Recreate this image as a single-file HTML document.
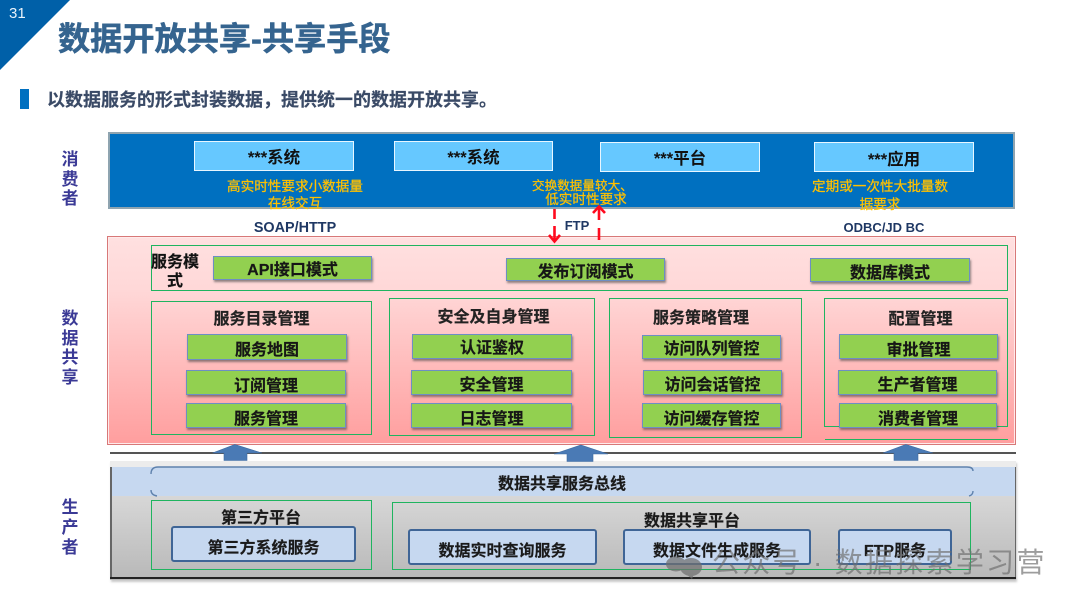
<!DOCTYPE html>
<html lang="zh">
<head>
<meta charset="utf-8">
<title>数据开放共享-共享手段</title>
<style>
html,body{margin:0;padding:0;background:#fff}
body{width:1080px;height:605px;position:relative;overflow:hidden;font-family:"Liberation Sans","Noto Sans CJK SC",sans-serif}
#page{left:0;top:0;width:1080px;height:605px;overflow:hidden;filter:blur(.35px)}
div{position:absolute;box-sizing:border-box}
.g{background:#92d050;border:1px solid #6d8ec4;box-shadow:1px 2px 2px rgba(70,70,70,.6);text-align:center;font-size:16px;font-weight:700;color:#161616;white-space:nowrap;line-height:32px;-webkit-text-stroke:.2px #161616}
.lb{background:#66c8ff;border:1px solid #e8f6ff;text-align:center;font-size:16.5px;font-weight:700;color:#111;white-space:nowrap}
.y{color:#ffc000;font-size:13.6px;font-weight:400;-webkit-text-stroke:.25px #ffc000;text-align:center;white-space:nowrap;line-height:16px}
.p{color:#1f3864;font-size:13px;font-weight:700;text-align:center;white-space:nowrap;line-height:16px}
.s{color:#3b3a96;font-size:17px;font-weight:700;width:24px;text-align:center;line-height:20px}
.b{border:1px solid #1fb45f}
.h{font-size:16px;font-weight:700;color:#222;text-align:center;white-space:nowrap;line-height:20px;-webkit-text-stroke:.2px #222}
.w{background:#c6d8f0;border:2px solid #3f6596;border-radius:3px;text-align:center;font-size:16px;font-weight:700;color:#1a1a1a;white-space:nowrap;-webkit-text-stroke:.15px #1a1a1a}
</style>
</head>
<body>
<div id="page">
<svg width="1080" height="605" style="position:absolute;left:0;top:0">
<polygon points="0,0 70,0 0,70" fill="#0060a8"/>
</svg>
<div style="left:9px;top:5px;color:#e8f2fa;font-size:15px;line-height:18px">31</div>
<div style="left:58px;top:17px;font-size:32.2px;font-weight:700;color:#35648f;line-height:44px;white-space:nowrap;-webkit-text-stroke:.5px #35648f">数据开放共享-共享手段</div>
<div style="left:20px;top:89px;width:9px;height:20px;background:#0070c0"></div>
<div style="left:47px;top:88px;font-size:18px;font-weight:700;color:#3a4a66;line-height:24px;white-space:nowrap;-webkit-text-stroke:.2px #3a4a66">以数据服务的形式封装数据，提供统一的数据开放共享。</div>

<div class="s" style="left:58px;top:150px;line-height:19.5px">消<br>费<br>者</div>
<div class="s" style="left:58px;top:309px;line-height:19.5px">数<br>据<br>共<br>享</div>
<div class="s" style="left:58px;top:498px">生<br>产<br>者</div>

<!-- consumer band -->
<div style="left:108px;top:132px;width:907px;height:77px;background:#0070c0;border:2px solid #8fa4b0"></div>
<div class="lb" style="left:194px;top:141px;width:160px;height:30px;line-height:33px">***系统</div>
<div class="lb" style="left:394px;top:141px;width:159px;height:30px;line-height:33px">***系统</div>
<div class="lb" style="left:600px;top:142px;width:160px;height:30px;line-height:33px">***平台</div>
<div class="lb" style="left:814px;top:142px;width:160px;height:30px;line-height:35px">***应用</div>
<div class="y" style="left:205px;top:179px;width:180px">高实时性要求小数据量</div>
<div class="y" style="left:205px;top:196px;width:180px">在线交互</div>
<div class="y" style="left:532px;top:178px;font-size:12.6px;text-align:left">交换数据量较大、</div>
<div class="y" style="left:496px;top:192px;width:180px">低实时性要求</div>
<div class="y" style="left:790px;top:179px;width:180px">定期或一次性大批量数</div>
<div class="y" style="left:790px;top:197px;width:180px">据要求</div>

<div class="p" style="left:235px;top:220px;width:120px;font-size:14.4px">SOAP/HTTP</div>
<div class="p" style="left:547px;top:218px;width:60px">FTP</div>
<div class="p" style="left:824px;top:220px;width:120px">ODBC/JD BC</div>

<!-- pink band -->
<div style="left:107px;top:236px;width:909px;height:209px;background:linear-gradient(#ffe0e0,#ffd8d8 25%,#ff9e9e);border:1px solid #d87878;box-shadow:inset 0 0 0 1px #ffeaea"></div>
<div class="b" style="left:151px;top:245px;width:857px;height:46px"></div>
<div class="h" style="left:151px;top:253px;width:48px;line-height:19px;white-space:normal;color:#111">服务模式</div>
<div class="g" style="left:213px;top:256px;width:159px;height:24px;line-height:28px">API接口模式</div>
<div class="g" style="left:506px;top:258px;width:159px;height:23px;line-height:28px">发布订阅模式</div>
<div class="g" style="left:810px;top:258px;width:160px;height:24px;line-height:30px">数据库模式</div>

<div class="b" style="left:151px;top:301px;width:221px;height:134px"></div>
<div class="h" style="left:151px;top:310px;width:221px">服务目录管理</div>
<div class="g" style="left:187px;top:334px;width:160px;height:26px">服务地图</div>
<div class="g" style="left:186px;top:370px;width:160px;height:25px">订阅管理</div>
<div class="g" style="left:186px;top:403px;width:160px;height:25px">服务管理</div>

<div class="b" style="left:389px;top:298px;width:206px;height:138px"></div>
<div class="h" style="left:389px;top:308px;width:209px">安全及自身管理</div>
<div class="g" style="left:412px;top:334px;width:160px;height:25px;line-height:27px">认证鉴权</div>
<div class="g" style="left:411px;top:370px;width:161px;height:25px;line-height:30px">安全管理</div>
<div class="g" style="left:411px;top:403px;width:161px;height:25px">日志管理</div>

<div class="b" style="left:609px;top:298px;width:193px;height:140px"></div>
<div class="h" style="left:609px;top:309px;width:184px">服务策略管理</div>
<div class="g" style="left:642px;top:335px;width:139px;height:24px;line-height:27px">访问队列管控</div>
<div class="g" style="left:643px;top:370px;width:139px;height:25px;line-height:30px">访问会话管控</div>
<div class="g" style="left:642px;top:403px;width:139px;height:25px">访问缓存管控</div>

<div class="b" style="left:824px;top:298px;width:184px;height:129px"></div>
<div style="left:825px;top:439px;width:183px;height:1px;background:#1fb45f"></div>
<div class="h" style="left:824px;top:310px;width:193px">配置管理</div>
<div class="g" style="left:839px;top:334px;width:159px;height:25px;line-height:31px">审批管理</div>
<div class="g" style="left:838px;top:370px;width:159px;height:25px;line-height:30px">生产者管理</div>
<div class="g" style="left:839px;top:403px;width:158px;height:25px">消费者管理</div>

<!-- separator -->
<div style="left:110px;top:452px;width:906px;height:2px;background:#555"></div>

<!-- producer band -->
<div style="left:110px;top:461px;width:906px;height:119px;background:linear-gradient(#e4e4e4,#b8b8b8);box-shadow:1px 2px 2px rgba(120,120,120,.4)"></div>
<div style="left:110px;top:461px;width:906px;height:6px;background:#ececec"></div>
<div style="left:111px;top:467px;width:904px;height:29px;background:#c6d8f0"></div>
<div style="left:110px;top:467px;width:2px;height:110px;background:#666"></div>
<div style="left:1015px;top:467px;width:1px;height:110px;background:#666"></div>
<div style="left:110px;top:577px;width:906px;height:2px;background:#222"></div>
<svg width="1080" height="605" style="position:absolute;left:0;top:0">
<path d="M151 474 Q151 467 158 467 H967 Q973 467 973 471 M973 491 Q973 495 969 496 M151 490 Q151 495 157 496" fill="none" stroke="#5f82ad" stroke-width="1.4"/>
<g fill="#4a7ab5" stroke="#3f6a9f" stroke-width=".6">
<path d="M235 444.5 L262 453 L247 453 V460.5 H224 V453 L212.5 453 Z"/>
<path d="M581 445 L608 454 L593 454 V461.5 H567 V454 L554 454 Z"/>
<path d="M906 444.5 L933 453 L918 453 V460.5 H894 V453 L883 453 Z"/>
</g>
<g stroke="#ff0a1e" stroke-width="2.6" fill="none">
<path d="M554.5 209 V219 M554.5 226 V240"/>
<path d="M549 235 L554.5 241.5 L560 235"/>
<path d="M599 208 V220 M599 228 V240"/>
<path d="M593 213 L599 206.5 L605 213"/>
</g>
</svg>
<div class="h" style="left:151px;top:475px;width:822px;color:#1a1a1a">数据共享服务总线</div>

<div class="b" style="left:151px;top:500px;width:221px;height:70px"></div>
<div class="h" style="left:151px;top:509px;width:220px;color:#1a1a1a">第三方平台</div>
<div class="w" style="left:171px;top:526px;width:185px;height:36px;line-height:42px">第三方系统服务</div>

<div class="b" style="left:392px;top:502px;width:579px;height:68px"></div>
<div class="h" style="left:392px;top:512px;width:600px;color:#1a1a1a">数据共享平台</div>
<div class="w" style="left:408px;top:529px;width:189px;height:36px;line-height:42px">数据实时查询服务</div>
<div class="w" style="left:623px;top:529px;width:188px;height:36px;line-height:42px">数据文件生成服务</div>
<div class="w" style="left:838px;top:529px;width:114px;height:36px;line-height:42px">FTP服务</div>

<!-- watermark -->
<svg width="1080" height="605" style="position:absolute;left:0;top:0">
<g fill="#6f6f6f" opacity=".72">
<ellipse cx="676" cy="564" rx="10" ry="7.5"/>
<ellipse cx="691" cy="567" rx="11" ry="9"/>
<path d="M686 574 L692 579 L694 574 Z"/>
</g>
</svg>
<div style="left:712px;top:544px;font-size:28px;line-height:38px;color:rgba(110,110,110,.68);white-space:nowrap;letter-spacing:2.3px">公众号 · 数据探索学习营</div>
</div>
</body>
</html>
